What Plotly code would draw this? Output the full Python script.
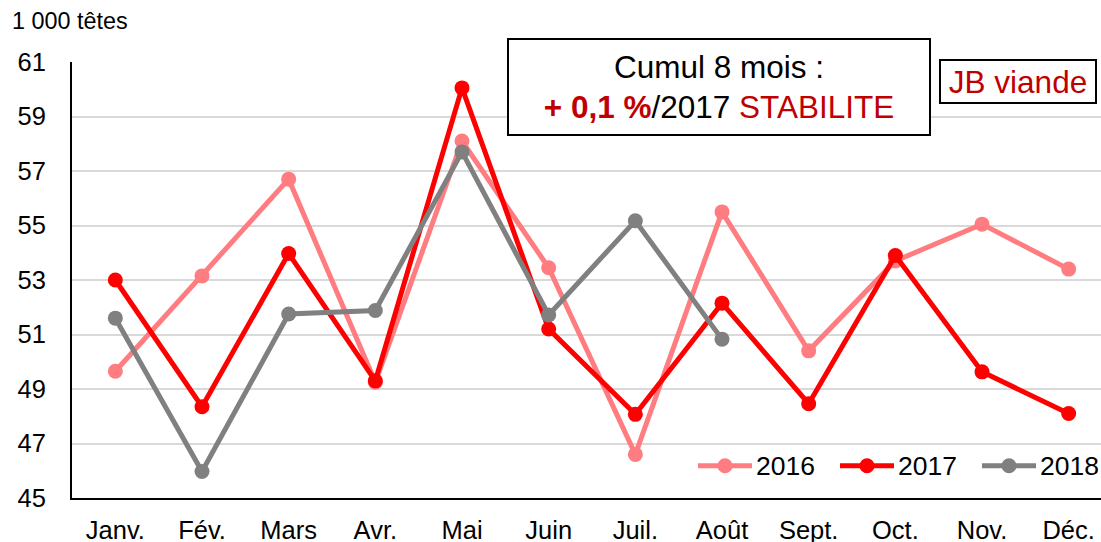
import plotly.graph_objects as go

months = ["Janv.", "Fév.", "Mars", "Avr.", "Mai", "Juin", "Juil.", "Août", "Sept.", "Oct.", "Nov.", "Déc."]
v2016 = [49.65, 53.15, 56.7, 49.25, 58.1, 53.45, 46.6, 55.5, 50.4, 53.7, 55.05, 53.4]
v2017 = [53.0, 48.35, 53.97, 49.3, 60.05, 51.2, 48.07, 52.15, 48.46, 53.9, 49.63, 48.1]
v2018 = [51.6, 45.97, 51.75, 51.88, 57.7, 51.72, 55.17, 50.83]
y_ticks = [45, 47, 49, 51, 53, 55, 57, 59, 61]

series = [("2016", v2016, "#FF7C80"), ("2017", v2017, "#FF0000"), ("2018", v2018, "#808080")]

W, H = 1101, 542
ML, MR, MT, MB = 72, 0, 62, 44
PW, PH = W - ML - MR, H - MT - MB


def px_x(p):
    return (p - ML) / PW


def px_y(p):
    return (H - MB - p) / PH


FONT = "Liberation Sans, Arial, sans-serif"
fig = go.Figure()
for name, vals, col in series:
    fig.add_trace(go.Scatter(
        x=list(range(len(vals))), y=vals, name=name, mode="lines+markers",
        line=dict(color=col, width=5), marker=dict(color=col, size=15),
        showlegend=False,
    ))

# custom legend (symbol line + dot + label), placed like the reference
shapes = []
annotations = []
leg_y = px_y(465.7)
leg_starts = [698, 840, 982]
for (name, _, col), x0 in zip(series, leg_starts):
    shapes.append(dict(type="line", xref="paper", yref="paper", x0=px_x(x0), x1=px_x(x0 + 54),
                       y0=leg_y, y1=leg_y, line=dict(color=col, width=5)))
    shapes.append(dict(type="circle", xref="paper", yref="paper", xsizemode="pixel", ysizemode="pixel",
                       xanchor=px_x(x0 + 27), yanchor=leg_y, x0=-7.5, x1=7.5, y0=-7.5, y1=7.5,
                       fillcolor=col, line=dict(color=col, width=0)))
    annotations.append(dict(xref="paper", yref="paper", x=px_x(x0 + 56), y=leg_y, xanchor="left",
                            yanchor="middle", text=name, showarrow=False,
                            font=dict(size=26.5, color="black")))

annotations += [
    dict(xref="paper", yref="paper", x=px_x(10), y=px_y(21), xanchor="left", yanchor="middle",
         text="1 000 têtes", showarrow=False, font=dict(size=23.4, color="black")),
    dict(xref="paper", yref="paper", x=px_x(719), y=px_y(87), xanchor="center", yanchor="middle",
         text="Cumul 8 mois :<br><b><span style='color:#C00000'>+ 0,1 %</span></b>/2017 <span style='color:#C00000'>STABILITE</span>",
         showarrow=False, font=dict(size=31.5, color="black"), align="center",
         bgcolor="white", bordercolor="black", borderwidth=2, borderpad=0, width=420, height=94),
    dict(xref="paper", yref="paper", x=px_x(1018), y=px_y(81.5), xanchor="center", yanchor="middle",
         text="JB viande", showarrow=False, font=dict(size=31.5, color="#C00000"),
         bgcolor="white", bordercolor="black", borderwidth=2, borderpad=0, width=154, height=41),
]

fig.update_layout(
    width=W, height=H,
    margin=dict(l=ML, r=MR, t=MT, b=MB),
    paper_bgcolor="white", plot_bgcolor="white",
    font=dict(family=FONT, color="black", size=25.5),
    showlegend=False,
    xaxis=dict(range=[-0.5, 11.373], tickmode="array", tickvals=list(range(12)), ticktext=months,
               showgrid=False, showline=True, linecolor="black", linewidth=2, zeroline=False,
               ticks="", tickfont=dict(size=25.5), ticklabelstandoff=8, automargin=False),
    yaxis=dict(range=[45, 61], tickmode="array", tickvals=y_ticks, ticktext=[str(t) for t in y_ticks],
               showgrid=True, gridcolor="#D9D9D9", gridwidth=1.5, showline=True, linecolor="black",
               linewidth=2, zeroline=False, ticks="", tickfont=dict(size=25.5), ticklabelstandoff=19,
               automargin=False),
    shapes=shapes,
    annotations=annotations,
)
fig.write_html(
    "out.html",
    config={"displayModeBar": False},
    post_script="document.body.style.margin='0';document.body.style.padding='0';document.body.style.overflow='hidden';",
)
